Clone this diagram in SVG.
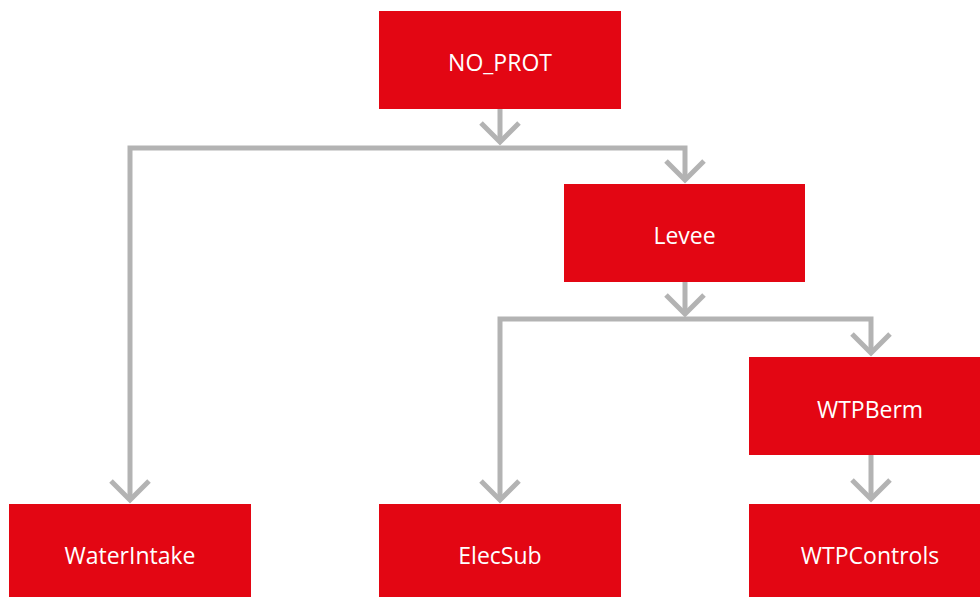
<svg xmlns="http://www.w3.org/2000/svg" width="980" height="597" viewBox="0 0 980 597">
<style>
.box{fill:#e30613}
.lbl{fill:#fff;font-family:"Open Sans","Noto Sans","Liberation Sans",sans-serif;font-size:23px;text-anchor:middle;dominant-baseline:central}
.conn{fill:none;stroke:#b3b3b3;stroke-width:5;stroke-linejoin:miter}
</style>
<defs>
<marker id="chev" markerUnits="userSpaceOnUse" viewBox="-30 -25 40 50" refX="0" refY="0" markerWidth="40" markerHeight="50" orient="auto" overflow="visible">
<path d="M-19,-19 L0,0 L-19,19" fill="none" stroke="#b3b3b3" stroke-width="5"/>
</marker>
</defs>
<rect width="980" height="597" fill="#fff"/>
<g id="connectors">
<path class="conn" d="M500,109 V142" marker-end="url(#chev)"/>
<path class="conn" d="M500,148 H130 V500" marker-end="url(#chev)"/>
<path class="conn" d="M500,148 H685 V180" marker-end="url(#chev)"/>
<path class="conn" d="M685,282 V314" marker-end="url(#chev)"/>
<path class="conn" d="M685,319 H500 V500" marker-end="url(#chev)"/>
<path class="conn" d="M685,319 H871 V353" marker-end="url(#chev)"/>
<path class="conn" d="M871,455 V499" marker-end="url(#chev)"/>
</g>
<g id="NO_PROT"><rect class="box" x="379" y="11" width="242" height="98"/><text class="lbl" x="500" y="62">NO_PROT</text></g>
<g id="Levee"><rect class="box" x="564" y="184" width="241" height="98"/><text class="lbl" x="684.5" y="235">Levee</text></g>
<g id="WTPBerm"><rect class="box" x="749" y="357" width="241" height="98"/><text class="lbl" x="870" y="409">WTPBerm</text></g>
<g id="WaterIntake"><rect class="box" x="9" y="504" width="242" height="98"/><text class="lbl" x="130" y="555">WaterIntake</text></g>
<g id="ElecSub"><rect class="box" x="379" y="504" width="242" height="98"/><text class="lbl" x="500" y="555">ElecSub</text></g>
<g id="WTPControls"><rect class="box" x="749" y="504" width="241" height="98"/><text class="lbl" x="870" y="555">WTPControls</text></g>
</svg>
